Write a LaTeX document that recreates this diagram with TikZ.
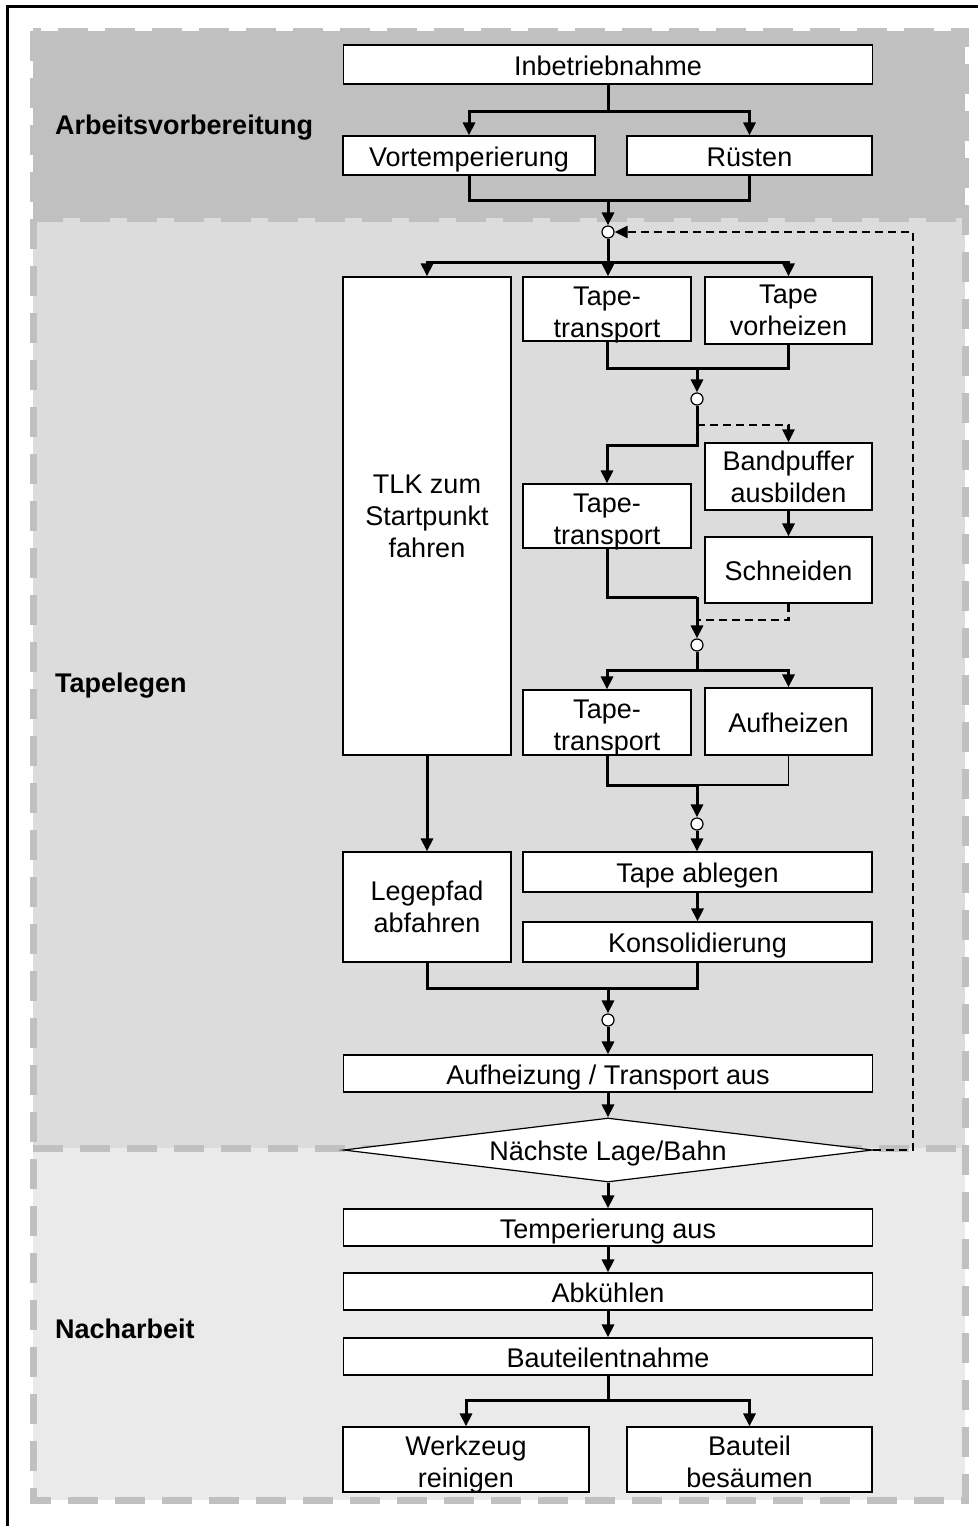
\documentclass[tikz,border=0pt]{standalone}
\usepackage{fontspec}
\setmainfont{Liberation Sans}
\usetikzlibrary{arrows.meta,shapes.geometric}
\definecolor{avgray}{HTML}{C0C0C0}
\definecolor{tlgray}{HTML}{DCDCDC}
\definecolor{nagray}{HTML}{EAEAEA}

\begin{document}
\begin{tikzpicture}[x=1pt,y=-1pt,
every node/.style={font=\fontsize{27}{32}\selectfont,align=center},
box/.style={draw,fill=white,line width=1.2pt,inner sep=0pt},
sl/.style={text height=23pt,text depth=2pt},
ml/.style={text height=56pt,text depth=0pt},
jn/.style={circle,draw,fill=white,line width=1.2pt,minimum size=12pt,inner sep=0pt},
lbl/.style={font=\fontsize{27}{32}\selectfont\bfseries,anchor=base west,inner sep=0pt},
ln/.style={line width=3pt},
thn/.style={line width=1.2pt},
arr/.style={line width=3pt,-{Triangle[length=13pt,width=12pt]}},
dsh/.style={line width=2.5pt,dash pattern=on 8pt off 5pt},
darr/.style={dsh,-{Triangle[length=13pt,width=12pt]}},
area/.style={draw=avgray,line width=7pt,dash pattern=on 30pt off 17pt}]
\useasboundingbox (0,0) rectangle (978,1526);
% phases
\fill[avgray] (33,31) rectangle (965,218);
\fill[tlgray] (33,218) rectangle (965,1148);
\fill[nagray] (33,1148) rectangle (965,1500);
\draw[area] (33,31) rectangle (965,1500);
\draw[area] (33,218) -- (965,218);
\draw[area] (33,1148) -- (965,1148);
\draw[line width=3pt] (7.5,1526) -- (7.5,6) -- (978,6);
\node[lbl] (avl) at (55,134.5) {Arbeitsvorbereitung};
\node[lbl] (tll) at (55,692.5) {Tapelegen};
\node[lbl] (nal) at (55,1338.5) {Nacharbeit};
% steps
\node[box,sl,minimum width=529pt,minimum height=39pt] (inb) at (608,64.5) {Inbetriebnahme};
\node[box,sl,minimum width=252pt,minimum height=39pt] (vor) at (469,155.5) {Vortemperierung};
\node[box,sl,minimum width=245pt,minimum height=39pt] (rue) at (749.5,155.5) {Rüsten};
\node[jn] (c1) at (608,232) {};
\node[box,minimum width=168pt,minimum height=478pt] (tlk) at (427,516) {TLK zum\\Startpunkt\\fahren};
\node[box,ml,minimum width=168pt,minimum height=64pt] (tt1) at (607,309) {Tape-\\transport};
\node[box,minimum width=167pt,minimum height=67pt] (tvh) at (788.5,310.5) {Tape\\vorheizen};
\node[jn] (c2) at (697,399) {};
\node[box,minimum width=167pt,minimum height=67pt] (bpa) at (788.5,476.5) {Bandpuffer\\ausbilden};
\node[box,ml,minimum width=168pt,minimum height=64pt] (tt2) at (607,516) {Tape-\\transport};
\node[box,sl,minimum width=167pt,minimum height=66pt] (sch) at (788.5,570) {Schneiden};
\node[jn] (c3) at (697,645) {};
\node[box,ml,minimum width=168pt,minimum height=65pt] (tt3) at (607,722.5) {Tape-\\transport};
\node[box,sl,minimum width=167pt,minimum height=67pt] (auf) at (788.5,721.5) {Aufheizen};
\node[jn] (c4) at (697,824) {};
\node[box,minimum width=168pt,minimum height=110pt] (lgp) at (427,907) {Legepfad\\abfahren};
\node[box,sl,minimum width=349pt,minimum height=40pt] (tab) at (697.5,872) {Tape ablegen};
\node[box,sl,minimum width=349pt,minimum height=40pt] (kon) at (697.5,942) {Konsolidierung};
\node[jn] (c5) at (608,1020) {};
\node[box,sl,minimum width=529pt,minimum height=37pt] (aus) at (608,1073.5) {Aufheizung / Transport aus};
\node[box,sl,diamond,aspect=8.3,minimum width=529pt,minimum height=64pt] (nl) at (608,1150) {Nächste Lage/Bahn};
\node[box,sl,minimum width=529pt,minimum height=37pt] (tem) at (608,1227.5) {Temperierung aus};
\node[box,sl,minimum width=529pt,minimum height=37pt] (abk) at (608,1291.5) {Abkühlen};
\node[box,sl,minimum width=529pt,minimum height=37pt] (bte) at (608,1356.5) {Bauteilentnahme};
\node[box,ml,minimum width=246pt,minimum height=65pt] (wzr) at (466,1459.5) {Werkzeug\\reinigen};
\node[box,ml,minimum width=245pt,minimum height=65pt] (bbs) at (749.5,1459.5) {Bauteil\\besäumen};
% branch points
\coordinate (s1) at (608,111);
\coordinate (m1) at (608,200);
\coordinate (s2) at (608,262);
\coordinate (m2) at (697,368);
\coordinate (d2) at (697,425);
\coordinate (s3) at (697,445);
\coordinate (m3) at (697,597);
\coordinate (d3) at (697,620);
\coordinate (s4) at (697,670);
\coordinate (m4) at (697,785);
\coordinate (m5) at (608,988);
\coordinate (fb) at (913,1150);
\coordinate (s6) at (608,1400);
% flow
\draw[ln] (inb) -- (s1);
\draw[arr] (s1) -| (vor.north);
\draw[arr] (s1) -| (rue.north);
\draw[ln] (vor.south) |- (m1) -| (rue.south);
\draw[arr] (m1) -- (c1);
\draw[ln] (c1) -- (s2);
\draw[arr] (s2) -| (tlk.north);
\draw[arr] (s2) -- (s2 |- tt1.north);
\draw[arr] (s2) -| (tvh.north);
\draw[ln] (tt1.south) |- (m2) -| (tvh.south);
\draw[arr] (m2) -- (c2);
\draw[arr] (c2) -- (s3) -| (tt2.north);
\draw[darr] (d2) -| (bpa.north);
\draw[arr] (bpa) -- (sch);
\draw[ln] (tt2.south) |- (m3);
\draw[dsh] (sch.south) |- (d3);
\draw[arr] (m3) -- (c3);
\draw[ln] (c3) -- (s4);
\draw[arr] (s4) -| (tt3.north);
\draw[arr] (s4) -| (auf.north);
\draw[ln] (tt3.south) |- (m4);
\draw[thn] (auf.south) |- (m4);
\draw[arr] (m4) -- (c4);
\draw[arr] (c4) -- (c4 |- tab.north);
\draw[arr] (tlk) -- (lgp);
\draw[arr] (tab) -- (kon);
\draw[ln] (lgp.south) |- (m5) -| (kon.south);
\draw[arr] (m5) -- (c5);
\draw[arr] (c5) -- (aus);
\draw[arr] (aus) -- (nl);
\draw[darr] (nl.east) -- (fb) |- (c1);
\draw[arr] (nl) -- (tem);
\draw[arr] (tem) -- (abk);
\draw[arr] (abk) -- (bte);
\draw[ln] (bte) -- (s6);
\draw[arr] (s6) -| (wzr.north);
\draw[arr] (s6) -| (bbs.north);
\end{tikzpicture}
\end{document}
